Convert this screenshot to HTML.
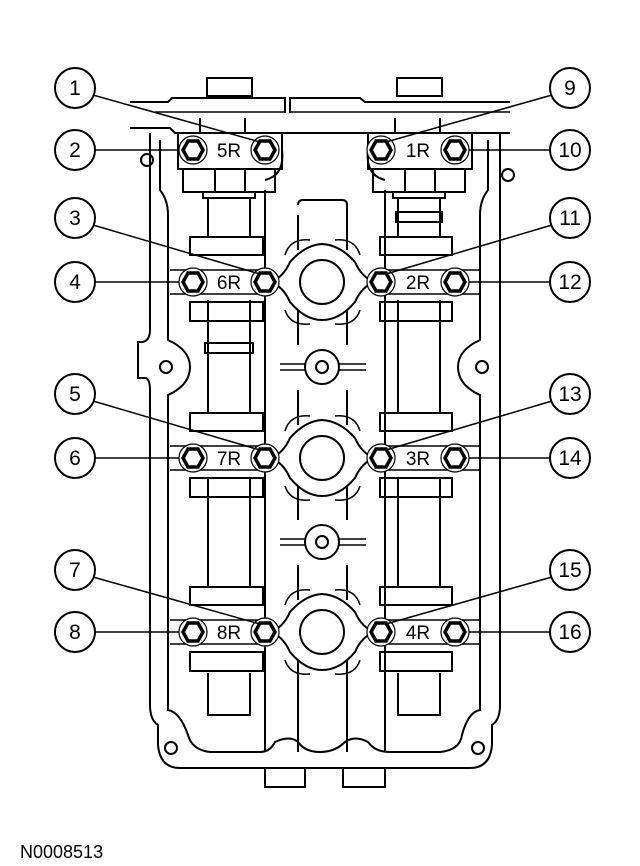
<!DOCTYPE html>
<html><head><style>
html,body{margin:0;padding:0;background:#fff;}
svg{display:block;}
text{font-family:"Liberation Sans",sans-serif;}
</style></head><body>
<svg width="640" height="866" viewBox="0 0 640 866" xmlns="http://www.w3.org/2000/svg">
<g fill="none" stroke="#000" stroke-width="2">
<!-- outer housing -->
<path d="M150 133 L150 330 Q150 340 143 342 L138 342 L138 378 L146 378 Q150 380 150 390 L150 705 Q150 720 158 725 L158 745 Q160 768 180 768 L470 768 Q490 768 492 745 L492 725 Q500 720 500 705 L500 133"/>
<path d="M160 140 L160 190 Q168 200 168 215 L168 340 Q190 350 190 367 Q190 385 168 395 L168 710 Q180 712 188 735 Q192 750 210 752 L260 752 Q270 752 275 742 Q290 735 298 742 Q305 752 320 752 Q335 752 345 742 Q355 735 368 742 Q375 752 390 752 L440 752 Q460 750 462 735 Q468 712 480 710 L480 395 Q458 385 458 367 Q458 350 480 340 L480 215 Q480 200 488 190 L488 140"/>
<!-- bottom tabs -->
<path d="M265 768 L265 787 L305 787 L305 768 M343 768 L343 787 L385 787 L385 768"/>
<!-- main vertical walls -->
<path d="M265 190 L265 752 M385 190 L385 752"/>
<!-- central rib -->
<path d="M298 215 L298 250 M347 215 L347 250 M298 205 Q298 200 303 200 L342 200 Q347 200 347 205 L347 215"/>
<path d="M298 305 L298 345 M347 305 L347 345 M298 390 L298 425 M347 390 L347 425 M298 480 L298 520 M347 480 L347 520 M298 565 L298 600 M347 565 L347 600 M298 655 L298 752 M347 655 L347 752"/>
<!-- top cover -->
<path d="M130 102 L168 102 L172 98 L285 98 L285 113 M130 128 L170 128 L175 133 L510 133 M290 113 L290 98 L360 98 L365 102 L510 102 M200 118 L200 133 M245 118 L245 133 M395 118 L395 133 M440 118 L440 133"/>
<path d="M155 112 L285 112 M290 112 L510 112" stroke-width="1.5"/>
<rect x="207" y="78" width="45" height="18"/>
<rect x="397" y="78" width="45" height="18"/>
<!-- top cam blocks -->
<rect x="178" y="133" width="104" height="36"/>
<rect x="183" y="169" width="92" height="23"/>
<rect x="368" y="133" width="104" height="36"/>
<rect x="373" y="169" width="92" height="23"/>
<path d="M215 169 L215 192 M245 169 L245 192 M405 169 L405 192 M435 169 L435 192"/>
<path d="M203 192 L203 198 L255 198 L255 192 M393 192 L393 198 L445 198 L445 192"/>
<path d="M282 150 Q285 175 265 180 M368 150 Q365 175 385 180"/>
<circle cx="147" cy="160" r="6"/>
<circle cx="508" cy="175" r="6"/>
<circle cx="166" cy="367" r="6"/>
<circle cx="482" cy="367" r="6"/>
<circle cx="171" cy="748" r="6"/>
<circle cx="478" cy="748" r="6"/>
<!-- camshaft lines -->
<path d="M208 198 L208 237 M250 198 L250 237 M208 300 L208 413 M250 300 L250 413 M208 478 L208 588 M250 478 L250 588 M208 673 L208 715 L250 715 L250 673"/>
<path d="M398 198 L398 237 M440 198 L440 237 M398 300 L398 413 M440 300 L440 413 M398 478 L398 588 M440 478 L440 588 M398 673 L398 715 L440 715 L440 673"/>
<rect x="205" y="343" width="48" height="10"/>
<rect x="396" y="212" width="46" height="10"/>
<!-- small middle bosses -->
<circle cx="322" cy="367" r="17"/><circle cx="322" cy="367" r="6"/>
<circle cx="322" cy="542" r="17"/><circle cx="322" cy="542" r="6"/>
<path d="M280 364 L305 364 M280 370 L305 370 M339 364 L366 364 M339 370 L366 370 M280 539 L305 539 M280 545 L305 545 M339 539 L366 539 M339 545 L366 545" stroke-width="1.5"/>
</g>
<!-- rows -->
<g id="row" fill="none" stroke="#000" stroke-width="2">
<rect x="190" y="237" width="73" height="18"/>
<rect x="380" y="237" width="72" height="18"/>
<rect x="190" y="302" width="73" height="19"/>
<rect x="380" y="302" width="72" height="19"/>
<path d="M170 270 L265 270 M170 294 L265 294 M385 270 L480 270 M385 294 L480 294" stroke-width="1.5"/>
<path d="M270 282 Q283 278 290 262 Q305 245 322 244 Q340 245 355 262 Q362 278 375 282 Q362 286 355 302 Q340 320 322 320 Q305 320 290 302 Q283 286 270 282 Z" fill="#fff"/>
<circle cx="322" cy="282" r="22"/>
<path d="M285 255 Q290 238 310 240 M360 255 Q355 238 335 240 M285 310 Q290 326 310 324 M360 310 Q355 326 335 324" stroke-width="1.5"/>
</g>
<use href="#row" y="176"/>
<use href="#row" y="350"/>
<!-- bolts -->
<g id="bolts" fill="#fff" stroke="#000">
<g stroke-width="1.2"><circle cx="193" cy="282" r="14"/><circle cx="265" cy="282" r="14"/><circle cx="381" cy="282" r="14"/><circle cx="455" cy="282" r="14"/></g>
<g stroke-width="3.5"><polygon points="183,282 188,273 198,273 203,282 198,291 188,291"/><polygon points="255,282 260,273 270,273 275,282 270,291 260,291"/><polygon points="371,282 376,273 386,273 391,282 386,291 376,291"/><polygon points="445,282 450,273 460,273 465,282 460,291 450,291"/></g>
</g>
<use href="#bolts" y="-132"/>
<use href="#bolts" y="176"/>
<use href="#bolts" y="350"/>
<g font-size="19" text-anchor="middle">
<text x="229" y="157">5R</text><text x="418" y="157">1R</text>
<text x="229" y="289">6R</text><text x="418" y="289">2R</text>
<text x="229" y="465">7R</text><text x="418" y="465">3R</text>
<text x="229" y="639">8R</text><text x="418" y="639">4R</text>
</g>
<!-- leaders -->
<g stroke="#000" stroke-width="1.5" fill="none">
<path d="M93 95 L260 142 M95 150 L179 150 M93 225 L260 274 M95 282 L179 282 M93 401 L260 450 M95 458 L179 458 M93 577 L260 624 M95 632 L179 632"/>
<path d="M552 95 L386 142 M550 150 L469 150 M552 225 L386 274 M550 282 L469 282 M552 401 L386 450 M550 458 L469 458 M552 577 L386 624 M550 632 L469 632"/>
</g>
<!-- callouts -->
<g fill="#fff" stroke="#000" stroke-width="2">
<circle cx="75" cy="88" r="20"/><circle cx="75" cy="150" r="20"/><circle cx="75" cy="218" r="20"/><circle cx="75" cy="282" r="20"/>
<circle cx="75" cy="394" r="20"/><circle cx="75" cy="458" r="20"/><circle cx="75" cy="570" r="20"/><circle cx="75" cy="632" r="20"/>
<circle cx="570" cy="88" r="20"/><circle cx="570" cy="150" r="20"/><circle cx="570" cy="218" r="20"/><circle cx="570" cy="282" r="20"/>
<circle cx="570" cy="394" r="20"/><circle cx="570" cy="458" r="20"/><circle cx="570" cy="570" r="20"/><circle cx="570" cy="632" r="20"/>
</g>
<g font-size="21" text-anchor="middle">
<text x="75" y="95">1</text><text x="75" y="157">2</text><text x="75" y="225">3</text><text x="75" y="289">4</text>
<text x="75" y="401">5</text><text x="75" y="465">6</text><text x="75" y="577">7</text><text x="75" y="639">8</text>
<text x="570" y="95">9</text><text x="570" y="157">10</text><text x="570" y="225">11</text><text x="570" y="289">12</text>
<text x="570" y="401">13</text><text x="570" y="465">14</text><text x="570" y="577">15</text><text x="570" y="639">16</text>
</g>
<text x="20" y="858" font-size="18">N0008513</text>
</svg>
</body></html>
